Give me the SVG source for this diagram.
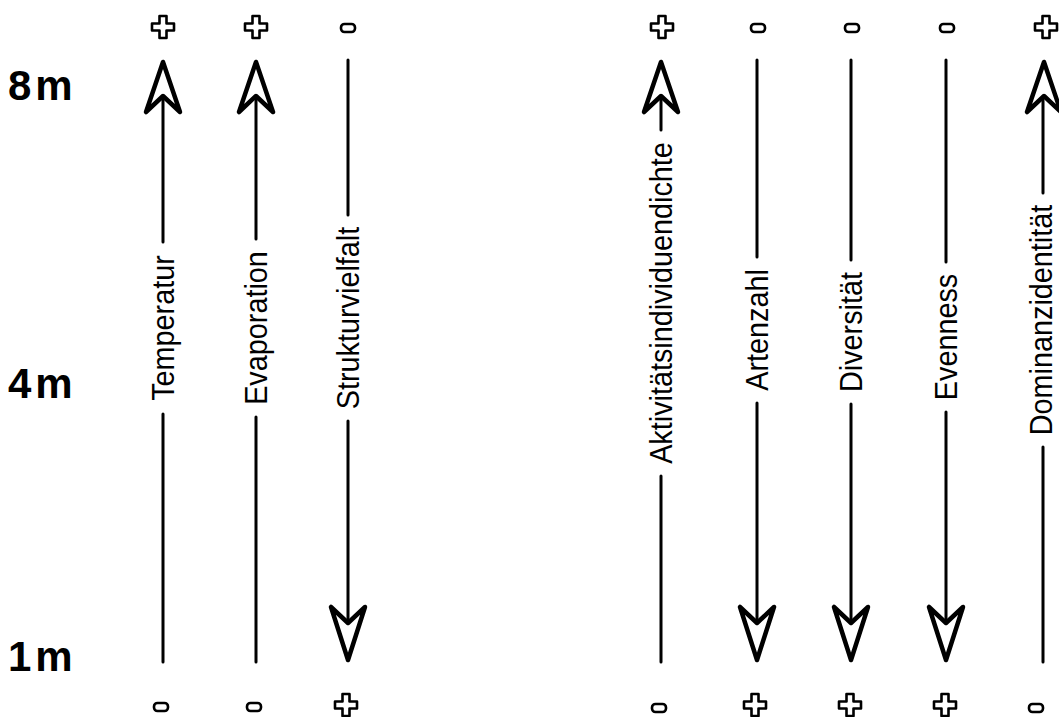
<svg xmlns="http://www.w3.org/2000/svg" xmlns:xlink="http://www.w3.org/1999/xlink" width="1059" height="717" viewBox="0 0 1059 717">
<style>
.ln{stroke:#000;stroke-width:3;fill:none;stroke-linecap:round}
.ah{stroke:#000;stroke-width:4.5;fill:#fff;stroke-linejoin:round}
.sg{stroke:#000;stroke-width:2.6;fill:#fff;stroke-linejoin:round}
.lb{font-family:"Liberation Sans",Arial,sans-serif;font-size:32px;fill:#000;text-anchor:middle}
.ax{font-family:"Liberation Sans",Arial,sans-serif;font-size:42px;font-weight:bold;fill:#000}
</style>
<defs>
<path id="plus" class="sg" d="M-3.5,-11 H3.5 V-3.5 H11 V3.5 H3.5 V11 H-3.5 V3.5 H-11 V-3.5 H-3.5 Z"/>
<rect id="minus" class="sg" x="-7" y="-4" width="14" height="8" rx="3.5"/>
<path id="up" class="ah" d="M-17,112 L0,62 L17,112 L0,96 Z"/>
<path id="down" class="ah" d="M-17,607 L0,660 L17,607 L0,623 Z"/>
</defs>
<rect width="1059" height="717" fill="#fff"/>
<g id="axis">
<text class="ax" x="8" y="100">8<tspan dx="4">m</tspan></text>
<text class="ax" x="8" y="398">4<tspan dx="4">m</tspan></text>
<text class="ax" x="8" y="671">1<tspan dx="4">m</tspan></text>
</g>
<g id="connectors">
<line class="ln" x1="163" y1="96" x2="163" y2="242"/><line class="ln" x1="163" y1="414" x2="163" y2="662"/>
<line class="ln" x1="256" y1="96" x2="256" y2="239"/><line class="ln" x1="256" y1="417" x2="256" y2="662"/>
<line class="ln" x1="348" y1="60" x2="348" y2="215"/><line class="ln" x1="348" y1="421" x2="348" y2="623"/>
<line class="ln" x1="661" y1="96" x2="661" y2="130"/><line class="ln" x1="661" y1="476" x2="661" y2="662"/>
<line class="ln" x1="757" y1="60" x2="757" y2="257"/><line class="ln" x1="757" y1="403" x2="757" y2="623"/>
<line class="ln" x1="851" y1="60" x2="851" y2="260"/><line class="ln" x1="851" y1="404" x2="851" y2="623"/>
<line class="ln" x1="946" y1="60" x2="946" y2="262"/><line class="ln" x1="946" y1="412" x2="946" y2="623"/>
<line class="ln" x1="1043" y1="96" x2="1043" y2="193"/><line class="ln" x1="1043" y1="447" x2="1043" y2="662"/>
</g>
<g id="temperatur">
<use xlink:href="#plus" x="163" y="27"/><use xlink:href="#up" x="163"/><use xlink:href="#minus" x="161" y="707"/>
<text class="lb" transform="translate(174,328) rotate(-90) scale(0.9,1)">Temperatur</text>
</g>
<g id="evaporation">
<use xlink:href="#plus" x="256" y="27"/><use xlink:href="#up" x="256"/><use xlink:href="#minus" x="254" y="707"/>
<text class="lb" transform="translate(267,328) rotate(-90) scale(0.9,1)">Evaporation</text>
</g>
<g id="strukturvielfalt">
<use xlink:href="#minus" x="348" y="28"/><use xlink:href="#down" x="348"/><use xlink:href="#plus" x="346" y="705"/>
<text class="lb" transform="translate(359,318) rotate(-90) scale(0.9,1)">Strukturvielfalt</text>
</g>
<g id="aktivitaet">
<use xlink:href="#plus" x="662" y="27"/><use xlink:href="#up" x="661"/><use xlink:href="#minus" x="659" y="708"/>
<text class="lb" transform="translate(672,303) rotate(-90) scale(0.9,1)">Aktivitätsindividuendichte</text>
</g>
<g id="artenzahl">
<use xlink:href="#minus" x="758" y="28"/><use xlink:href="#down" x="757"/><use xlink:href="#plus" x="755" y="705"/>
<text class="lb" transform="translate(768,330) rotate(-90) scale(0.9,1)">Artenzahl</text>
</g>
<g id="diversitaet">
<use xlink:href="#minus" x="852" y="28"/><use xlink:href="#down" x="851"/><use xlink:href="#plus" x="850" y="705"/>
<text class="lb" transform="translate(862,332) rotate(-90) scale(0.9,1)">Diversität</text>
</g>
<g id="evenness">
<use xlink:href="#minus" x="947" y="28"/><use xlink:href="#down" x="946"/><use xlink:href="#plus" x="945" y="705"/>
<text class="lb" transform="translate(957,337) rotate(-90) scale(0.9,1)">Evenness</text>
</g>
<g id="dominanz">
<use xlink:href="#plus" x="1046" y="27"/><use xlink:href="#up" x="1044"/><use xlink:href="#minus" x="1036" y="708"/>
<text class="lb" transform="translate(1052,320) rotate(-90) scale(0.9,1)">Dominanzidentität</text>
</g>
</svg>
